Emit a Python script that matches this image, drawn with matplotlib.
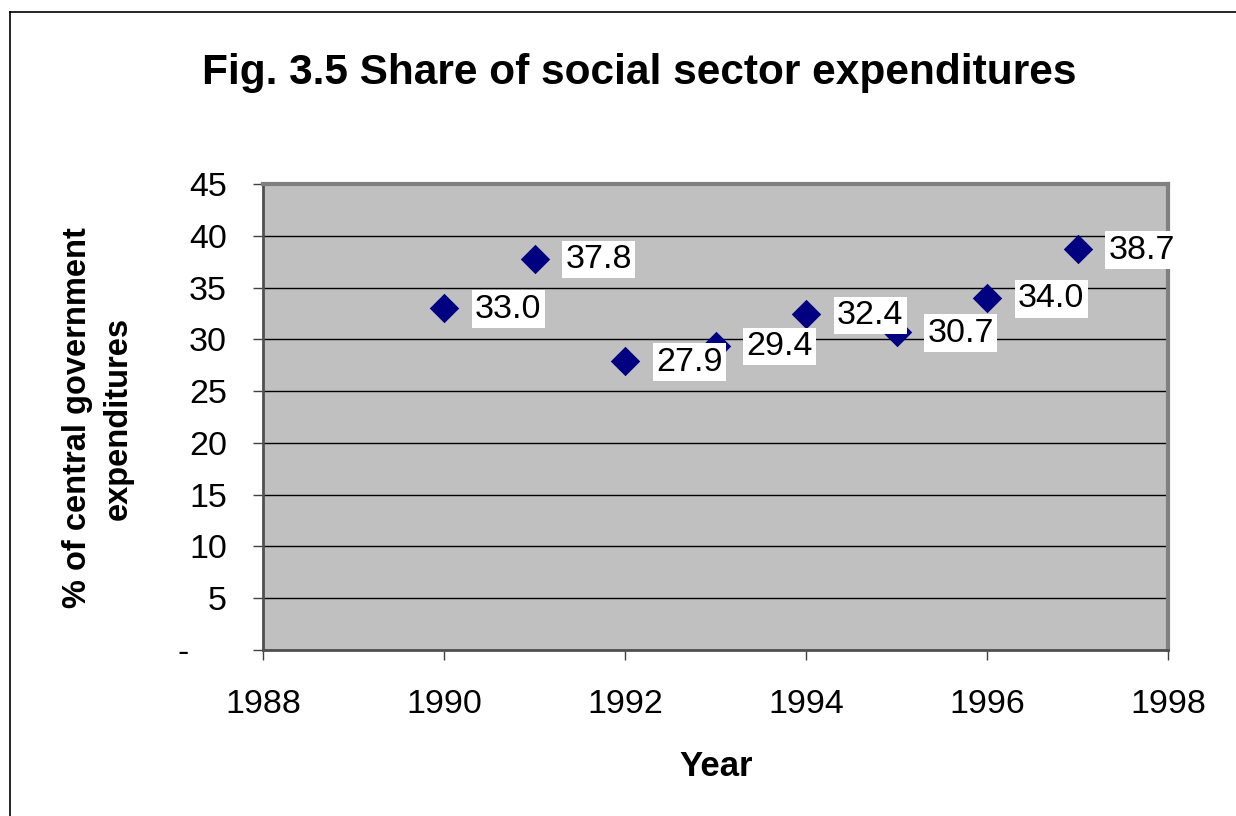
import matplotlib.pyplot as plt
from matplotlib.lines import Line2D

plt.rcParams['font.family'] = ['Liberation Sans', 'DejaVu Sans']

years = [1990, 1991, 1992, 1993, 1994, 1995, 1996, 1997]
shares = [33.0, 37.8, 27.9, 29.4, 32.4, 30.7, 34.0, 38.7]
x_ticks = [1988, 1990, 1992, 1994, 1996, 1998]
y_ticks = [0, 5, 10, 15, 20, 25, 30, 35, 40, 45]
y_tick_labels = ['-    ', '5', '10', '15', '20', '25', '30', '35', '40', '45']

fig = plt.figure(figsize=(12.36, 8.16), dpi=100)
ax = fig.add_axes([263 / 1236, 1 - 650 / 816, 905 / 1236, 466 / 816])
ax.set_facecolor('#C0C0C0')

ax.scatter(years, shares, marker='D', s=15 ** 2, color='#000080', zorder=3, linewidths=0)
for x, y in zip(years, shares):
    ax.annotate('%.1f' % y, (x, y), xytext=(31, -1), textcoords='offset pixels',
                ha='left', va='center', fontsize=24.5, zorder=4,
                bbox=dict(boxstyle='square,pad=0.1', fc='white', ec='none'))

ax.set_xlim(1988, 1998)
ax.set_ylim(0, 45)
ax.set_xticks(x_ticks)
ax.set_yticks(y_ticks)
ax.set_yticklabels(y_tick_labels)
ax.tick_params(axis='both', labelsize=24.5, length=7, width=1, color='#404040', direction='out')
ax.tick_params(axis='y', pad=19)
ax.tick_params(axis='x', pad=21)
ax.yaxis.grid(True, color='black', linewidth=1)
ax.set_axisbelow(True)
for side in ['left', 'bottom']:
    ax.spines[side].set_color('#505050')
    ax.spines[side].set_linewidth(2)
for side in ['top', 'right']:
    ax.spines[side].set_color('#808080')
    ax.spines[side].set_linewidth(3)

fig.text(639 / 1236, 1 - 73 / 816, 'Fig. 3.5 Share of social sector expenditures',
         ha='center', va='center', fontsize=30.5, fontweight='bold')
fig.text(98 / 1236, 1 - 418 / 816, '% of central government\nexpenditures',
         ha='center', va='center', rotation=90, fontsize=23.5, fontweight='bold',
         multialignment='center', linespacing=1.38)
fig.text(716 / 1236, 1 - 766 / 816, 'Year', ha='center', va='center',
         fontsize=25, fontweight='bold')

# outer chart border (only left and top edges show in the frame)
fig.add_artist(Line2D([10 / 1236, 10 / 1236], [0, 1 - 12 / 816], color='black', linewidth=1.2))
fig.add_artist(Line2D([10 / 1236, 1], [1 - 12 / 816, 1 - 12 / 816], color='black', linewidth=1.2))

fig.savefig('out.png', dpi=100)
